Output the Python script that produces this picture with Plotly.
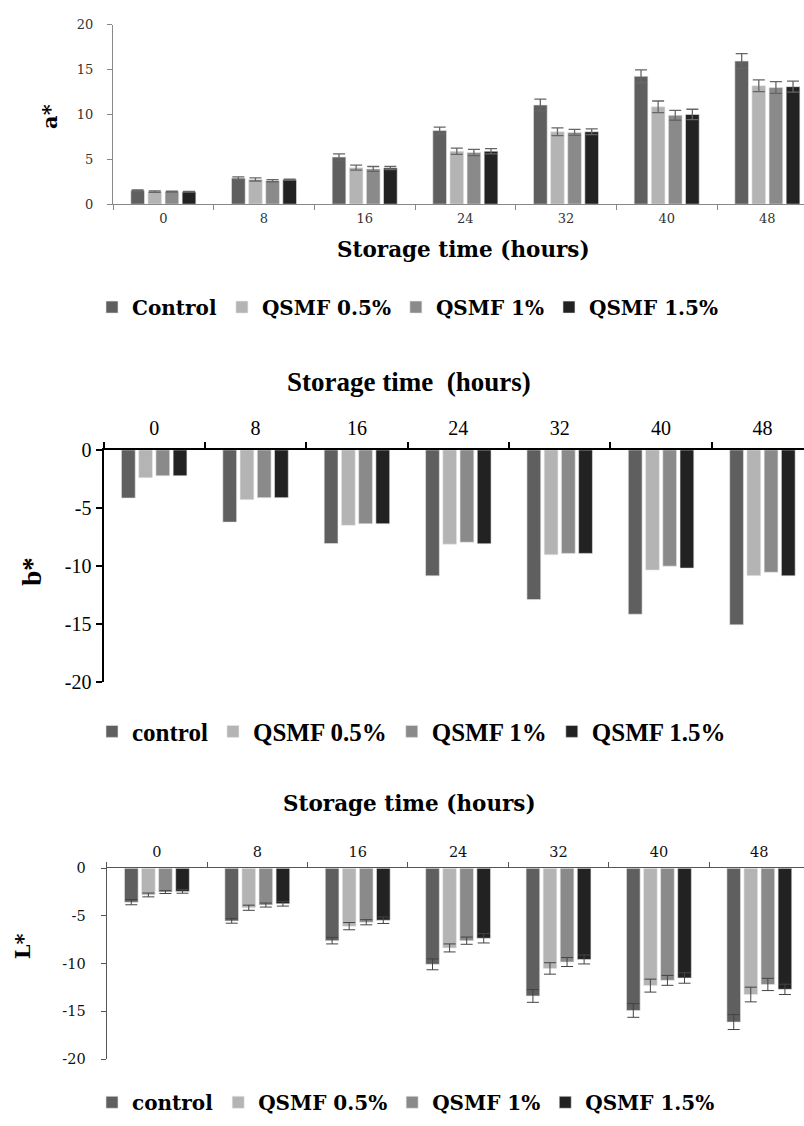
import plotly.graph_objects as go

hours = ["0", "8", "16", "24", "32", "40", "48"]
series_a = ["Control", "QSMF 0.5%", "QSMF 1%", "QSMF 1.5%"]
series_bc = ["control", "QSMF 0.5%", "QSMF 1%", "QSMF 1.5%"]
colors = ["#5f5f5f", "#b4b4b4", "#8a8a8a", "#222222"]

# a*
a_control = [1.5, 2.9, 5.25, 8.2, 11.05, 14.25, 15.95]
a_q05 = [1.4, 2.75, 4.07, 5.9, 8.07, 10.85, 13.2]
a_q1 = [1.4, 2.62, 3.93, 5.75, 8.0, 9.9, 13.0]
a_q15 = [1.38, 2.72, 4.03, 5.9, 8.07, 10.0, 13.1]
a_err_control = [0.08, 0.15, 0.35, 0.38, 0.65, 0.72, 0.82]
a_err_q05 = [0.08, 0.17, 0.28, 0.35, 0.43, 0.65, 0.65]
a_err_q1 = [0.06, 0.12, 0.27, 0.35, 0.33, 0.55, 0.65]
a_err_q15 = [0.05, 0.06, 0.17, 0.3, 0.33, 0.58, 0.62]

# b*
b_control = [-4.15, -6.23, -8.08, -10.87, -12.92, -14.18, -15.1]
b_q05 = [-2.4, -4.29, -6.51, -8.13, -9.05, -10.37, -10.85]
b_q1 = [-2.23, -4.12, -6.37, -7.96, -8.93, -10.03, -10.56]
b_q15 = [-2.23, -4.12, -6.37, -8.1, -8.93, -10.2, -10.87]

# L*
c_control = [-3.56, -5.52, -7.59, -10.07, -13.38, -14.9, -16.12]
c_q05 = [-2.8, -4.14, -6.07, -8.35, -10.5, -12.3, -13.23]
c_q1 = [-2.5, -3.86, -5.66, -7.59, -9.83, -11.75, -12.18]
c_q15 = [-2.43, -3.72, -5.45, -7.34, -9.56, -11.5, -12.69]
c_err_control = [0.27, 0.24, 0.34, 0.57, 0.67, 0.72, 0.78]
c_err_q05 = [0.2, 0.27, 0.38, 0.42, 0.6, 0.68, 0.77]
c_err_q1 = [0.15, 0.21, 0.27, 0.38, 0.47, 0.52, 0.64]
c_err_q15 = [0.19, 0.25, 0.34, 0.49, 0.47, 0.55, 0.54]

pos_ticks = [0, 5, 10, 15, 20]
neg_ticks = [0, -5, -10, -15, -20]
neg_tick_text = ["0", "-5", "-10", "-15", "-20"]

W, H = 804, 1126
TIMES = "Liberation Serif, Times New Roman, serif"
WIDE = "DejaVu Serif, serif"


def px_x(x):
    return x / W


def px_y(y):
    return 1 - y / H


fig = go.Figure()

a_vals = [a_control, a_q05, a_q1, a_q15]
a_errs = [a_err_control, a_err_q05, a_err_q1, a_err_q15]
for name, vals, errs, col in zip(series_a, a_vals, a_errs, colors):
    fig.add_trace(go.Bar(
        x=hours, y=vals, name=name, marker=dict(color=col, line=dict(color="#e8e8e8", width=0.6)),
        error_y=dict(type="data", array=errs, visible=True, color="#666666", thickness=1.3, width=6),
        xaxis="x", yaxis="y", legend="legend"))

b_vals = [b_control, b_q05, b_q1, b_q15]
for name, vals, col in zip(series_bc, b_vals, colors):
    fig.add_trace(go.Bar(
        x=hours, y=vals, name=name, marker=dict(color=col, line=dict(color="#e8e8e8", width=0.6)),
        xaxis="x2", yaxis="y2", legend="legend2"))

c_vals = [c_control, c_q05, c_q1, c_q15]
c_errs = [c_err_control, c_err_q05, c_err_q1, c_err_q15]
for name, vals, errs, col in zip(series_bc, c_vals, c_errs, colors):
    fig.add_trace(go.Bar(
        x=hours, y=vals, name=name, marker=dict(color=col, line=dict(color="#e8e8e8", width=0.6)),
        error_y=dict(type="data", array=errs, visible=True, color="#444444", thickness=1, width=6),
        xaxis="x3", yaxis="y3", legend="legend3"))

tickfont_a = dict(family=WIDE, size=13, color="#333333")
tickfont_b = dict(family=TIMES, size=20, color="#000000")
tickfont_c = dict(family=WIDE, size=14.5, color="#111111")

fig.update_layout(
    width=W, height=H, autosize=False,
    font=dict(family=TIMES, color="#000000"),
    margin=dict(l=0, r=0, t=0, b=0),
    paper_bgcolor="white", plot_bgcolor="white",
    barmode="group", bargap=0.32, bargroupgap=0.2,
    xaxis=dict(domain=[px_x(113), 1], range=[-0.5, 6.364], type="category",
               anchor="y", tickson="boundaries", ticks="outside", ticklen=5,
               tickcolor="#888888", showline=True, linecolor="#888888", linewidth=1,
               showgrid=False, tickfont=tickfont_a, zeroline=False, ticklabelstandoff=2),
    yaxis=dict(domain=[px_y(197), px_y(14)], range=[0, 20], anchor="x",
               tickvals=pos_ticks, ticks="outside", ticklen=5,
               tickcolor="#888888", showline=True, linecolor="#888888", linewidth=1,
               showgrid=False, zeroline=False, tickfont=tickfont_a, ticklabelstandoff=11),
    xaxis2=dict(domain=[px_x(103.5), 1], range=[-0.5, 6.41], type="category",
                anchor="y2", side="top", tickson="boundaries", ticks="outside", ticklen=6,
                tickcolor="#000000", tickwidth=2, showline=True, linecolor="#000000", linewidth=2,
                showgrid=False, tickfont=tickfont_b, zeroline=False, ticklabelstandoff=5),
    yaxis2=dict(domain=[px_y(684), px_y(447.7)], range=[-20, 0], anchor="x2",
                tickvals=neg_ticks, ticktext=neg_tick_text, ticks="outside", ticklen=6,
                tickcolor="#000000", tickwidth=2, showline=True, linecolor="#000000", linewidth=2,
                showgrid=False, zeroline=False, tickfont=tickfont_b),
    xaxis3=dict(domain=[px_x(106.7), 1], range=[-0.5, 6.445], type="category",
                anchor="y3", side="top", tickson="boundaries", ticks="outside", ticklen=5,
                tickcolor="#555555", showline=True, linecolor="#555555", linewidth=1.2,
                showgrid=False, tickfont=tickfont_c, zeroline=False, ticklabelstandoff=4),
    yaxis3=dict(domain=[px_y(1069), px_y(874.3)], range=[-20, 0], anchor="x3",
                tickvals=neg_ticks, ticktext=neg_tick_text, ticks="outside", ticklen=5,
                tickcolor="#555555", showline=True, linecolor="#555555", linewidth=1.2,
                showgrid=False, zeroline=False, tickfont=tickfont_c, ticklabelstandoff=12),
    legend=dict(orientation="h", x=px_x(92), y=px_y(302), xanchor="left", yanchor="middle",
                font=dict(family=WIDE, size=20, color="#000000", weight="bold"),
                bgcolor="rgba(0,0,0,0)", traceorder="normal"),
    legend2=dict(orientation="h", x=px_x(92), y=px_y(735), xanchor="left", yanchor="middle",
                 font=dict(family=TIMES, size=25, color="#000000", weight="bold"),
                 bgcolor="rgba(0,0,0,0)", traceorder="normal"),
    legend3=dict(orientation="h", x=px_x(92), y=px_y(1113), xanchor="left", yanchor="middle",
                 font=dict(family=WIDE, size=20, color="#000000", weight="bold"),
                 bgcolor="rgba(0,0,0,0)", traceorder="normal"),
    showlegend=True,
)

annots = [
    dict(text="<b>a*</b>", x=px_x(50), y=px_y(108), textangle=-90, size=21, fam=WIDE),
    dict(text="<b>Storage time (hours)</b>", x=px_x(463), y=px_y(243), textangle=0, size=21.5, fam=WIDE),
    dict(text="<b>b*</b>", x=px_x(32), y=px_y(572), textangle=-90, size=27, fam=TIMES),
    dict(text="<b>Storage time  (hours)</b>", x=px_x(409), y=px_y(378), textangle=0, size=27, fam=TIMES),
    dict(text="<b>L*</b>", x=px_x(22), y=px_y(954), textangle=-90, size=21, fam=WIDE),
    dict(text="<b>Storage time (hours)</b>", x=px_x(410), y=px_y(808), textangle=0, size=21.5, fam=WIDE),
]
for a in annots:
    fig.add_annotation(text=a["text"], x=a["x"], y=a["y"], xref="paper", yref="paper",
                       xanchor="center", yanchor="middle", showarrow=False,
                       textangle=a["textangle"],
                       font=dict(family=a["fam"], size=a["size"], color="#000000"))

fig.write_html("out.html", config={"displayModeBar": False},
               post_script="document.body.style.margin='0px';")
